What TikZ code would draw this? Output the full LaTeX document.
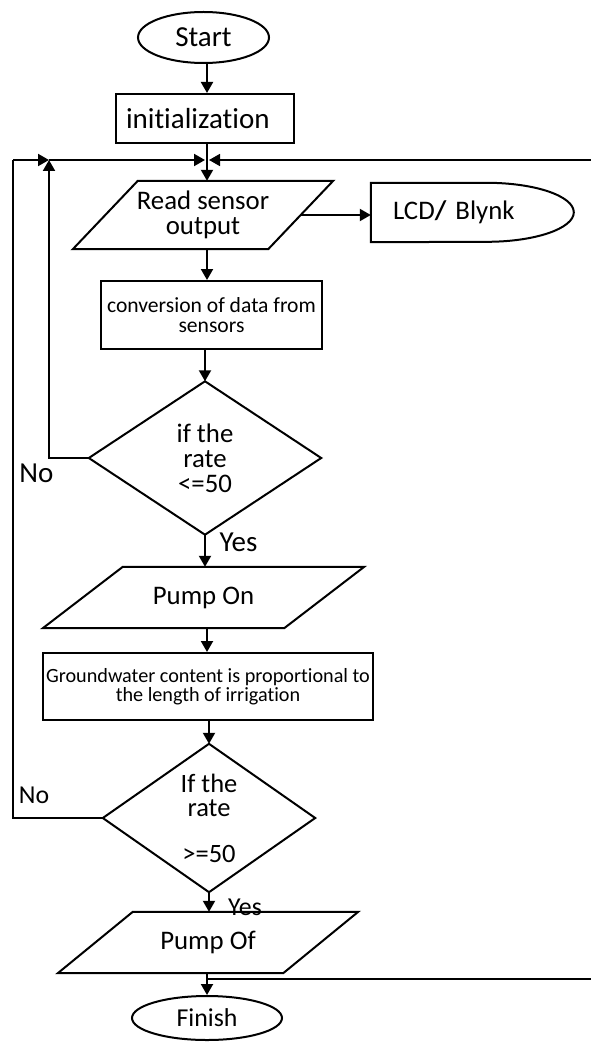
\documentclass[tikz,border=0pt]{standalone}
\usepackage{fontspec}
\setmainfont{Carlito}[Ligatures=NoCommon]
\usetikzlibrary{arrows.meta,calc,shapes.geometric}
\newcommand\drawpara[2]{\draw[shp] ([xshift=-#2]#1.south west) -- ([xshift=-#2]#1.south east) -- ([xshift=#2]#1.north east) -- ([xshift=#2]#1.north west) -- cycle;}
\begin{document}
\begin{tikzpicture}[x=1pt,y=-1pt,
  shp/.style={draw=black,line width=2pt,line join=miter},
  box/.style={draw=black,line width=2pt,inner sep=0pt,align=center},
  ghost/.style={inner sep=0pt,align=center},
  arr/.style={line width=2pt,-{Triangle[length=11pt,width=12pt]}},
  arrthin/.style={line width=1.6pt,-{Triangle[length=11pt,width=12pt]}},
  ln/.style={line width=2pt},
  lnthin/.style={line width=1.6pt},
  ftA/.style={font=\fontsize{29}{30}\selectfont},
  ftB/.style={font=\fontsize{26.8}{25}\selectfont},
  ftC/.style={font=\fontsize{25.8}{24}\selectfont},
  ftD/.style={font=\fontsize{21.6}{20}\selectfont},
  ftE/.style={font=\fontsize{20.2}{19.5}\selectfont}]
\useasboundingbox (0,0) rectangle (591,1043);
\fill[white] (0,0) rectangle (591,1043);
\clip (0,0) rectangle (591,1043);

% nodes
\node[box,ellipse,minimum width=131pt,minimum height=51pt,ftA] (start) at (203.5,37.5) {Start};
\node[box,minimum width=178pt,minimum height=49pt,text width=158pt,align=left,ftA] (init) at (205,118.5) {initialization};
\node[ghost,minimum width=195pt,minimum height=68pt,ftB] (p1) at (203,215) {Read sensor\\output};
\drawpara{p1}{32.5pt}
\node[ghost,minimum width=203pt,minimum height=59pt,text width=159pt,align=left,ftB] (lcd) at (472.5,212.5) {LCD\textbf{/} Blynk};
\draw[shp] (lcd.south west) -- (lcd.north west) -- ([xshift=116pt]lcd.north west)
  arc[start angle=90,end angle=-90,x radius=87pt,y radius=29.5pt] -- cycle;
\node[box,minimum width=221pt,minimum height=68pt,ftD] (conv) at (211.5,315) {conversion of data from\\sensors};
\node[ghost,minimum width=232pt,minimum height=153pt,ftB] (d1) at (205,458) {if the\\rate\\<=50};
\draw[shp] (d1.north) -- (d1.east) -- (d1.south) -- (d1.west) -- cycle;
\node[ghost,minimum width=241pt,minimum height=61pt,ftB] (pon) at (203.5,597.5) {Pump On};
\drawpara{pon}{40pt}
\node[box,minimum width=330pt,minimum height=67pt,ftE] (gw) at (208,686.5) {Groundwater content is proportional to\\the length of irrigation};
\node[ghost,minimum width=212pt,minimum height=148pt,font=\fontsize{26.5}{24}\selectfont] (d2) at (209,818) {If the\\rate\\[22pt]>=50};
\draw[shp] (d2.north) -- (d2.east) -- (d2.south) -- (d2.west) -- cycle;
\node[ghost,minimum width=225pt,minimum height=61pt,ftB] (pof) at (208,942.5) {Pump Of};
\drawpara{pof}{37.5pt}
\node[box,ellipse,minimum width=150pt,minimum height=44pt,ftC] (finish) at (207,1018) {Finish};

% labels
\node[ftA,inner sep=0pt] (no1) at (36.5,473) {No};
\node[ftC,inner sep=0pt] (no2) at (34,795) {No};
\node[ftA,inner sep=0pt] (yes1) at (238.5,542) {Yes};
\node[ftC,inner sep=0pt] (yes2) at (245,907) {Yes};

% helper coordinates
\coordinate (col) at (207,0);
\coordinate (oTL) at (13,160);
\coordinate (iT) at (49,160);
\coordinate (Jl) at (205,160);
\coordinate (Jr) at (209,160);
\coordinate (rT) at (600,160);
\coordinate (rB) at (600,979);

% main flow
\draw[arr] (start.south -| col) -- (init.north -| col);
\draw[arr] (init.south -| col) -- (p1.north -| col);
\draw[arr] (p1.east) -- (p1.east -| lcd.west);
\draw[arr] (p1.south -| col) -- (conv.north -| col);
\draw[arr] (d1.north |- conv.south) -- (d1.north);
\draw[arr] (d1.south) -- (d1.south |- pon.north);
\draw[arr] (pon.south -| col) -- (gw.north -| col);
\draw[arr] (d2.north |- gw.south) -- (d2.north);
\draw[arr] (d2.south) -- (d2.south |- pof.north);
\draw[arr] (finish.north |- pof.south) -- (finish.north);

% loops
\draw[ln] (d2.west) -| (oTL);
\draw[arr] (oTL) -- (iT);
\draw[arr] (iT) -- (Jl);
\draw[arr] (d1.west) -| (iT);
\coordinate (pf) at ($(finish.north |- pof.south)+(0,6)$);
\draw[lnthin] (pf) -- (pf -| rB) -- (rT);
\draw[arrthin] (rT) -- (Jr);
\end{tikzpicture}
\end{document}
